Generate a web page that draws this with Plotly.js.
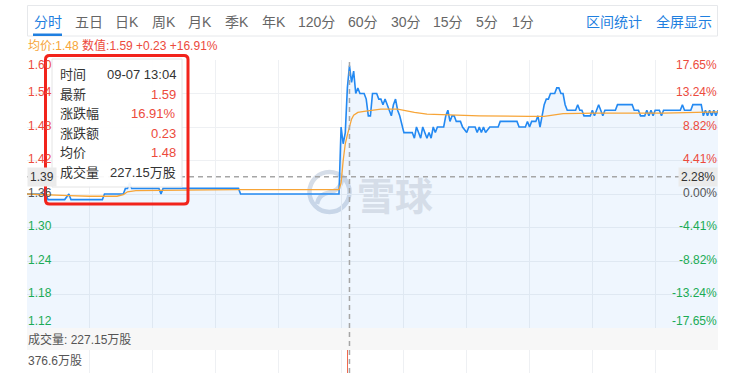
<!DOCTYPE html>
<html>
<head>
<meta charset="utf-8">
<script src="https://cdn.plot.ly/plotly-3.0.1.min.js"></script>
<style>
  html, body { margin: 0; padding: 0; background: #fff; }
  #wrap { width: 740px; height: 373px; overflow: hidden; position: relative; }
  #chart { width: 740px; height: 420px; }
</style>
</head>
<body>
<div id="wrap"><div id="chart"></div></div>
<script>
// ---- 分时 data (minute index counted from 09:30, HK session = 330 minutes) ----
const prevClose = 1.36;

const morningMinutes = [0, 9, 10, 18, 20, 21, 36, 37, 46, 47, 48, 49, 50, 63, 64, 65, 101, 102, 149];
const morningPrices  = [1.36, 1.36, 1.35, 1.35, 1.36, 1.35, 1.35, 1.36, 1.36, 1.37, 1.37, 1.38, 1.37, 1.37, 1.36, 1.37, 1.37, 1.36, 1.36];

const afternoonMinutes = [150, 151, 152, 153, 154, 155, 156, 157, 158, 159, 161, 162, 163, 164, 165, 167, 168, 169, 170, 171,
  172, 173, 174, 175, 176, 177, 178, 180, 184, 185, 186, 187, 188, 189, 191, 192, 193, 194, 195, 196,
  199, 200, 201, 202, 203, 204, 205, 207, 208, 210, 211, 214, 215, 216, 217, 218, 219, 221, 225, 226,
  234, 235, 238, 239, 240, 241, 243, 244, 245, 246, 247, 248, 249, 250, 252, 253, 254, 255, 256, 257,
  258, 262, 263, 264, 265, 266, 269, 270, 271, 272, 273, 274, 275, 276, 281, 282, 289, 290, 292, 293,
  295, 296, 297, 298, 299, 300, 302, 303, 304, 312, 313, 314, 317, 318, 322, 323, 324, 325, 326, 327,
  328, 329, 330];
const afternoonPrices = [1.48, 1.45, 1.47, 1.55, 1.59, 1.56, 1.58, 1.54, 1.55, 1.54, 1.54, 1.53, 1.50, 1.50, 1.54, 1.54, 1.53, 1.53, 1.52, 1.53,
  1.52, 1.51, 1.50, 1.52, 1.53, 1.51, 1.50, 1.47, 1.47, 1.46, 1.48, 1.47, 1.46, 1.48, 1.46, 1.47, 1.46, 1.48, 1.47, 1.48,
  1.48, 1.50, 1.51, 1.49, 1.50, 1.50, 1.49, 1.49, 1.48, 1.47, 1.48, 1.48, 1.47, 1.48, 1.47, 1.48, 1.47, 1.48, 1.48, 1.49,
  1.49, 1.48, 1.48, 1.49, 1.48, 1.49, 1.49, 1.50, 1.48, 1.50, 1.52, 1.53, 1.53, 1.54, 1.54, 1.55, 1.55, 1.54, 1.54, 1.52,
  1.51, 1.51, 1.52, 1.51, 1.51, 1.50, 1.50, 1.51, 1.50, 1.51, 1.52, 1.51, 1.50, 1.51, 1.51, 1.52, 1.52, 1.51, 1.51, 1.50,
  1.50, 1.51, 1.50, 1.51, 1.50, 1.51, 1.51, 1.50, 1.51, 1.51, 1.52, 1.51, 1.51, 1.52, 1.52, 1.50, 1.51, 1.50, 1.51, 1.50,
  1.51, 1.50, 1.51];

const avgMinutes = [0, 10, 20, 30, 43, 46, 48, 52, 70, 100, 149,
  150, 151, 152, 153, 154, 155, 156, 158, 161, 169, 177, 185, 191, 200, 216, 240, 247, 256, 272, 304, 330];
const avgPrices = [1.360, 1.358, 1.357, 1.356, 1.356, 1.359, 1.364, 1.366, 1.367, 1.368, 1.368,
  1.380, 1.420, 1.450, 1.466, 1.480, 1.494, 1.501, 1.506, 1.508, 1.512, 1.512, 1.506, 1.503, 1.502, 1.500, 1.499, 1.499, 1.504, 1.505, 1.505, 1.507];

// 成交量 (万股)
const volMinutes = [150, 151, 152, 153, 154, 155, 156, 157];
const volumes    = [160.2, 95.4, 138.0, 376.6, 227.15, 142.3, 118.6, 96.0];

const priceTicks = [1.60, 1.54, 1.48, 1.42, 1.36, 1.30, 1.24, 1.18, 1.12];
const tabLabels  = ['分时', '五日', '日K', '周K', '月K', '季K', '年K', '120分', '60分', '30分', '15分', '5分', '1分'];
const toolLabels = ['区间统计', '全屏显示'];

const hoverMinute = 154;
const hoverTime = '09-07 13:04';
const crossPrice = 1.391;

// ---- derived series ----
const minutes = morningMinutes.concat(afternoonMinutes);
const prices = morningPrices.concat(afternoonPrices);
const priceAt = m => prices[minutes.indexOf(m)];
const hoverPrice = priceAt(hoverMinute);
const hoverAvg = avgPrices[avgMinutes.indexOf(hoverMinute)];
const hoverVol = volumes[volMinutes.indexOf(hoverMinute)];
const hoverChg = hoverPrice - prevClose;
const hoverPct = hoverChg / prevClose * 100;
const pctOf = p => ((p - prevClose) / prevClose * 100).toFixed(2) + '%';

// ---- colours / fonts ----
const RED = '#ec4a3c', GREEN = '#1aab54', GRAY = '#555555', BLUE = '#2389f2', ORANGE = '#f7a538', LINK = '#1f7fe0';
const FONT = 'Liberation Sans, Arial, Noto Sans CJK SC, sans-serif';
const CJK = 'Noto Sans CJK SC, sans-serif';
const MARK = '#d5dde8';

// plot area: x 27..718 px, y 60..400 px
const px = x => (x - 27) / 691;
const py = y => (400 - y) / 340;

function label(text, x, y, o) {
  o = o || {};
  return {
    text: text, x: px(x), y: py(y), xref: 'paper', yref: 'paper', showarrow: false,
    xanchor: o.anchor || 'left', yanchor: 'middle',
    font: { family: o.family || FONT, size: o.size || 12, color: o.color || '#333', weight: o.weight || 'normal' },
    borderpad: 0
  };
}

function roundRect(x0, y0, x1, y1, r) {
  const X = px, Y = py;
  return 'M' + X(x0 + r) + ',' + Y(y0) + ' L' + X(x1 - r) + ',' + Y(y0) +
    ' Q' + X(x1) + ',' + Y(y0) + ' ' + X(x1) + ',' + Y(y0 + r) +
    ' L' + X(x1) + ',' + Y(y1 - r) +
    ' Q' + X(x1) + ',' + Y(y1) + ' ' + X(x1 - r) + ',' + Y(y1) +
    ' L' + X(x0 + r) + ',' + Y(y1) +
    ' Q' + X(x0) + ',' + Y(y1) + ' ' + X(x0) + ',' + Y(y1 - r) +
    ' L' + X(x0) + ',' + Y(y0 + r) +
    ' Q' + X(x0) + ',' + Y(y0) + ' ' + X(x0 + r) + ',' + Y(y0) + ' Z';
}

// ---- traces ----
const traces = [
  {
    x: minutes, y: prices, type: 'scatter', mode: 'lines',
    line: { color: BLUE, width: 1.6 }, fill: 'tozeroy', fillcolor: 'rgba(35,137,242,0.075)',
    xaxis: 'x', yaxis: 'y', hoverinfo: 'skip'
  },
  {
    x: avgMinutes, y: avgPrices, type: 'scatter', mode: 'lines',
    line: { color: ORANGE, width: 1.3 }, xaxis: 'x', yaxis: 'y', hoverinfo: 'skip'
  },
  {
    x: volMinutes, y: volumes, type: 'bar', width: 0.8,
    marker: { color: volMinutes.map(m => {
      const i = minutes.indexOf(m);
      return prices[i] >= prices[i - 1] ? '#ef6a50' : GREEN;
    }), line: { width: 0 } },
    xaxis: 'x', yaxis: 'y2', hoverinfo: 'skip'
  }
];

// ---- annotations ----
const ann = [];

// toolbar
const tabX = [47.5, 88.5, 127.5, 163.5, 200, 236.5, 273.5, 316.5, 363, 406, 447.5, 487, 522.5];
tabLabels.forEach((t, i) => ann.push(label(t, tabX[i], 22, { anchor: 'center', size: 14, color: i === 0 ? LINK : '#666' })));
const toolX = [613.5, 683.5];
toolLabels.forEach((t, i) => ann.push(label(t, toolX[i], 22, { anchor: 'center', size: 14, color: LINK })));

// legend line
ann.push(label(
  '<span style="color:' + ORANGE + '">均价:' + hoverAvg.toFixed(2) + '</span> ' +
  '<span style="color:' + RED + '">数值:' + hoverPrice.toFixed(2) + ' +' + hoverChg.toFixed(2) + ' +' + hoverPct.toFixed(2) + '%</span>',
  27, 45.5, { size: 12 }));

// price / percent axis labels
priceTicks.forEach((t, i) => {
  const c = t > prevClose + 1e-9 ? RED : (t < prevClose - 1e-9 ? GREEN : GRAY);
  const ys = i === 0 ? -5 : (i === priceTicks.length - 1 ? 7 : 1.5);
  ann.push({ text: t.toFixed(2), x: 0, y: t, xref: 'paper', yref: 'y', xanchor: 'left', yanchor: 'middle',
    yshift: ys, xshift: 0, showarrow: false, borderpad: 0, font: { family: FONT, size: 12, color: c } });
  ann.push({ text: pctOf(t), x: 1, y: t, xref: 'paper', yref: 'y', xanchor: 'right', yanchor: 'middle',
    yshift: ys, xshift: 0, showarrow: false, borderpad: 0, font: { family: FONT, size: 12, color: c } });
});

// crosshair value tags
ann.push({ text: crossPrice.toFixed(2), x: 0, y: crossPrice, xref: 'paper', yref: 'y', xanchor: 'left', yanchor: 'middle',
  showarrow: false, bgcolor: '#ebebeb', borderpad: 2, font: { family: FONT, size: 12, color: '#333' } });
ann.push({ text: pctOf(crossPrice), x: 1, y: crossPrice, xref: 'paper', yref: 'y', xanchor: 'right', yanchor: 'middle',
  showarrow: false, bgcolor: '#ebebeb', borderpad: 2, font: { family: FONT, size: 12, color: '#333' } });

// watermark
ann.push(label('雪球', 356, 193, { family: CJK, size: 38, color: MARK, weight: 'bold' }));

// tooltip
const tipRows = [
  ['时间', hoverTime, '#333'],
  ['最新', hoverPrice.toFixed(2), RED],
  ['涨跌幅', hoverPct.toFixed(2) + '%', RED],
  ['涨跌额', hoverChg.toFixed(2), RED],
  ['均价', hoverAvg.toFixed(2), RED],
  ['成交量', hoverVol.toFixed(2) + '万股', '#333']
];
const tipY = [75, 94.3, 113.5, 133, 152.5, 172];
tipRows.forEach((r, i) => {
  ann.push(label(r[0], 59, tipY[i], { size: 13, color: '#333' }));
  ann.push(label(r[1], 176.5, tipY[i], { size: 13, color: r[2], anchor: 'right' }));
});

// volume pane captions
ann.push(label('成交量: ' + hoverVol.toFixed(2) + '万股', 27, 339, { size: 12, color: GRAY }));
ann.push(label(Math.max(...volumes).toFixed(1) + '万股', 27, 361, { size: 12, color: GRAY }));

// ---- shapes ----
const shapes = [
  // toolbar frame and active-tab underline
  { type: 'rect', xref: 'paper', yref: 'paper', x0: px(27.5), x1: px(717.5), y0: py(36), y1: py(5.5),
    fillcolor: '#fff', line: { color: '#e6e8eb', width: 1 }, layer: 'above' },
  { type: 'rect', xref: 'paper', yref: 'paper', x0: px(33), x1: px(62), y0: py(36), y1: py(33.5),
    fillcolor: LINK, line: { width: 0 }, layer: 'above' },
  // volume caption band
  { type: 'rect', xref: 'paper', yref: 'paper', x0: 0, x1: 1, y0: py(350), y1: py(328),
    fillcolor: '#f7f7f7', line: { width: 0 }, layer: 'above' },
  // watermark logo
  { type: 'circle', xref: 'paper', yref: 'paper', x0: px(309.5), x1: px(349.5), y0: py(212), y1: py(172),
    line: { color: MARK, width: 4.5 }, layer: 'below' },
  { type: 'path', xref: 'paper', yref: 'paper',
    path: 'M' + px(317) + ',' + py(204) + ' C' + px(321) + ',' + py(186) + ' ' + px(338) + ',' + py(199) + ' ' + px(342) + ',' + py(180),
    line: { color: MARK, width: 4.5 }, layer: 'below' },
  // crosshair
  { type: 'line', xref: 'x', yref: 'paper', x0: hoverMinute, x1: hoverMinute, y0: 0, y1: 1,
    line: { color: '#a6a6a6', width: 1.5, dash: '5px,4px' }, layer: 'above' },
  { type: 'line', xref: 'paper', yref: 'y', x0: 0, x1: 1, y0: crossPrice, y1: crossPrice,
    line: { color: '#a6a6a6', width: 1.5, dash: '5px,4px' }, layer: 'above' },
  // tooltip panel
  { type: 'rect', xref: 'paper', yref: 'paper', x0: px(52), x1: px(182), y0: py(187), y1: py(59),
    fillcolor: 'rgba(255,255,255,0.93)', line: { color: '#e4e4e4', width: 1 }, layer: 'above' },
  // red highlight frame
  { type: 'path', xref: 'paper', yref: 'paper', path: roundRect(45.5, 55.5, 188, 204, 4),
    line: { color: '#f2231b', width: 3 }, layer: 'above' }
];

const layout = {
  width: 740, height: 420,
  margin: { l: 27, r: 22, t: 60, b: 20, pad: 0 },
  paper_bgcolor: '#fff', plot_bgcolor: '#fff',
  showlegend: false, hovermode: false, bargap: 0,
  font: { family: FONT },
  xaxis: { range: [0, 330], domain: [0, 1], anchor: 'y', tick0: 0, dtick: 30, showgrid: true, gridcolor: '#eef0f3',
    gridwidth: 1, zeroline: false, showline: false, showticklabels: false, ticks: '', fixedrange: true },
  yaxis: { range: [1.12, 1.60], domain: [py(328), 1], tickmode: 'array', tickvals: priceTicks, showgrid: true,
    gridcolor: '#eef0f3', zeroline: false, showline: false, showticklabels: false, ticks: '' },
  yaxis2: { range: [0, Math.max(...volumes)], domain: [0, py(350)], showgrid: false, zeroline: false,
    showline: false, showticklabels: false, ticks: '' },
  shapes: shapes,
  annotations: ann
};

Plotly.newPlot('chart', traces, layout, { staticPlot: true, displayModeBar: false });
</script>
</body>
</html>
